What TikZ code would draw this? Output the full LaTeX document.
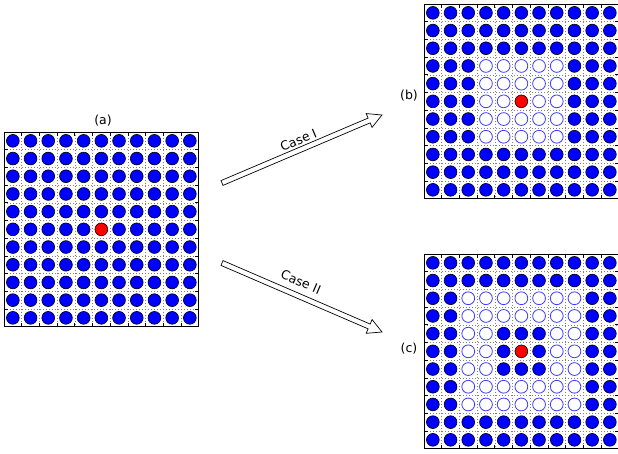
\documentclass[tikz,border=0pt]{standalone}
\usepackage{fontspec}
\setmainfont{DejaVu Sans}
\usetikzlibrary{calc}
\definecolor{mblue}{RGB}{0,0,255}
\definecolor{hollowblue}{RGB}{60,60,255}
\tikzset{
  frame/.style={line width=0.9pt, draw=black},
  gridl/.style={draw=gray, line width=0.45pt, dash pattern=on 0.6pt off 2.4pt},
  tickl/.style={line width=0.7pt, draw=black},
  atomfull/.style={fill=mblue, draw=black, line width=0.6pt},
  atomred/.style={fill=red, draw=black, line width=0.6pt},
  atomempty/.style={fill=white, draw=hollowblue, line width=0.8pt},
  fatarrow/.style={draw=black, fill=white, line width=0.7pt, line join=miter},
  lbl/.style={font=\fontsize{12.5}{14}\selectfont, inner sep=0pt},
}
\def\cs{17.7}
\newcommand\drawlat[4]{%
  \begin{scope}[shift={(#1,#2)}]
    \foreach \k in {1,...,10}{
      \draw[gridl] ({\k*\cs},0) -- ({\k*\cs},{11*\cs});
      \draw[gridl] (0,{\k*\cs}) -- ({11*\cs},{\k*\cs});
      \draw[tickl] ({\k*\cs},0) -- ++(0,4);
      \draw[tickl] ({\k*\cs},{11*\cs}) -- ++(0,-4);
      \draw[tickl] (0,{\k*\cs}) -- ++(4,0);
      \draw[tickl] ({11*\cs},{\k*\cs}) -- ++(-4,0);
    }
    \draw[frame] (0,0) rectangle ({11*\cs},{11*\cs});
    \foreach \i in {0,...,10}{
      \foreach \j in {0,...,10}{
        \pgfmathtruncatemacro\dd{max(abs(\i-5),abs(\j-5))}
        \ifnum\dd=0 \def\st{atomred}\else
          \ifnum\dd<#3 \def\st{atomfull}\else
            \ifnum\dd>#4 \def\st{atomfull}\else \def\st{atomempty}\fi
          \fi
        \fi
        \path[\st] ({(\i+0.5)*\cs},{(\j+0.5)*\cs}) circle[radius=6.4pt];
      }
    }
  \end{scope}}
\newcommand\fatarrow[2]{%
  \coordinate (base-#1-#2) at ($(#2)!14pt!(#1)$);
  \draw[fatarrow] ($(#1)!2.6pt!90:(#2)$) -- ($(base-#1-#2)!2.6pt!90:(#2)$)
    -- ($(base-#1-#2)!7.5pt!90:(#2)$) -- (#2)
    -- ($(base-#1-#2)!7.5pt!-90:(#2)$) -- ($(base-#1-#2)!2.6pt!-90:(#2)$)
    -- ($(#1)!2.6pt!-90:(#2)$) -- cycle;}
\begin{document}
\begin{tikzpicture}[x=1pt,y=-1pt]
  \useasboundingbox (0,0) rectangle (618,454);
  \drawlat{4}{132}{1}{0}
  \drawlat{424}{4}{1}{2}
  \drawlat{424}{254}{2}{3}
  \node[lbl] (la) at (103,121) {(a)};
  \node[lbl] (lb) at (409,96) {(b)};
  \node[lbl] (lc) at (409,349) {(c)};
  \coordinate (t1) at (222,183);
  \coordinate (h1) at (382,115);
  \coordinate (t2) at (222,263);
  \coordinate (h2) at (382,332);
  \fatarrow{t1}{h1}
  \fatarrow{t2}{h2}
  \node[lbl, rotate=23] (c1) at (298.5,140) {Case I};
  \node[lbl, rotate=-23.3] (c2) at (301,282) {Case II};
\end{tikzpicture}
\end{document}
